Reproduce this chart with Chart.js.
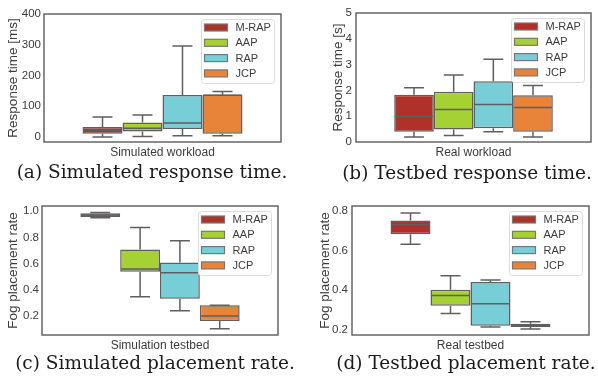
<!DOCTYPE html>
<html>
<head>
<meta charset="utf-8">
<script src="https://cdn.jsdelivr.net/npm/chart.js@4"></script>
<style>
  body { margin: 0; background: #fff; width: 598px; height: 380px; position: relative; overflow: hidden; }
  canvas { position: absolute; }
  .cap { position: absolute; width: 320px; text-align: center; font-family: "DejaVu Serif", serif; font-size: 18.5px; line-height: 22px; color: #1a1a1a; white-space: nowrap; }
</style>
</head>
<body>
<canvas id="c1" width="300" height="162" style="left:0;top:0"></canvas>
<canvas id="c2" width="300" height="162" style="left:298px;top:0"></canvas>
<canvas id="c3" width="300" height="165" style="left:0;top:190px"></canvas>
<canvas id="c4" width="300" height="165" style="left:298px;top:190px"></canvas>
<div class="cap" style="left:-8px;top:161px">(a) Simulated response time.</div>
<div class="cap" style="left:307px;top:162px">(b) Testbed response time.</div>
<div class="cap" style="left:-5px;top:352px">(c) Simulated placement rate.</div>
<div class="cap" style="left:306px;top:352px">(d) Testbed placement rate.</div>
<script>
// box stats per series: [min, q1, median, q3, max]
const series = ['M-RAP', 'AAP', 'RAP', 'JCP'];
const colors = ['#b0302a', '#a6d134', '#78ced6', '#e8833a'];

const simResponse = [[0, 11, 22, 33, 65], [2, 18, 29, 47, 72], [4, 26, 46, 137, 296], [4, 11, 136, 138, 148]];
const realResponse = [[0.19, 0.40, 0.99, 1.83, 2.10], [0.25, 0.48, 1.26, 1.95, 2.60], [0.40, 0.53, 1.45, 2.35, 3.21], [0.19, 0.40, 1.34, 1.81, 2.19]];
const simPlacement = [[0.95, 0.955, 0.972, 0.985, 0.99], [0.345, 0.536, 0.557, 0.707, 0.875], [0.238, 0.33, 0.529, 0.608, 0.773], [0.10, 0.159, 0.197, 0.279, 0.279]];
const realPlacement = [[0.632, 0.682, 0.731, 0.751, 0.79], [0.281, 0.32, 0.372, 0.401, 0.472], [0.212, 0.219, 0.33, 0.44, 0.45], [0.202, 0.212, 0.221, 0.229, 0.239]];

const edge = '#5f5f5f';
const textColor = '#3c3c3c';
const sans = '"Liberation Sans", Arial, sans-serif';

// whiskers, medians, frame and the in-plot legend
const boxPlugin = {
    id: 'boxExtras',
    afterDatasetsDraw(chart) {
        const ctx = chart.ctx;
        const y = chart.scales.y;
        ctx.save();
        ctx.strokeStyle = edge;
        ctx.lineWidth = 1.5;
        chart.data.datasets.forEach((ds, i) => {
            const bar = chart.getDatasetMeta(i).data[0];
            const s = ds.stats;
            const half = bar.width / 2;
            ctx.beginPath();
            ctx.moveTo(bar.x, y.getPixelForValue(s[3]));
            ctx.lineTo(bar.x, y.getPixelForValue(s[4]));
            ctx.moveTo(bar.x - half / 2, y.getPixelForValue(s[4]));
            ctx.lineTo(bar.x + half / 2, y.getPixelForValue(s[4]));
            ctx.moveTo(bar.x, y.getPixelForValue(s[1]));
            ctx.lineTo(bar.x, y.getPixelForValue(s[0]));
            ctx.moveTo(bar.x - half / 2, y.getPixelForValue(s[0]));
            ctx.lineTo(bar.x + half / 2, y.getPixelForValue(s[0]));
            ctx.moveTo(bar.x - half + 1, y.getPixelForValue(s[2]));
            ctx.lineTo(bar.x + half - 1, y.getPixelForValue(s[2]));
            ctx.stroke();
        });
        ctx.restore();
    },
    afterDraw(chart) {
        const ctx = chart.ctx;
        const a = chart.chartArea;
        ctx.save();
        ctx.strokeStyle = '#666';
        ctx.lineWidth = 1.5;
        ctx.strokeRect(a.left, a.top, a.right - a.left, a.bottom - a.top);

        // legend box
        const w = 73, h = 64;
        const lx = a.right - 7 - w, ly = a.top + 5;
        ctx.fillStyle = '#fff';
        ctx.strokeStyle = '#dcdcdc';
        ctx.lineWidth = 1;
        ctx.beginPath();
        ctx.roundRect(lx + 0.5, ly + 0.5, w, h, 3);
        ctx.fill();
        ctx.stroke();
        ctx.font = '11px ' + sans;
        ctx.textBaseline = 'middle';
        series.forEach((name, i) => {
            const cy = ly + 8.5 + i * 15.3;
            ctx.fillStyle = colors[i];
            ctx.fillRect(lx + 3.5, cy - 3.5, 23, 7);
            ctx.strokeStyle = '#777';
            ctx.lineWidth = 1.2;
            ctx.strokeRect(lx + 3.5, cy - 3.5, 23, 7);
            ctx.fillStyle = textColor;
            ctx.fillText(name, lx + 34.5, cy + 0.5);
        });
        ctx.restore();
    }
};

function makeChart(id, category, stats, yTitle, yMin, yMax, step, decimals, pad, yWidth, tickPad) {
    return new Chart(document.getElementById(id), {
        type: 'bar',
        data: {
            labels: [category],
            datasets: series.map((name, i) => ({
                label: name,
                data: [[stats[i][1], stats[i][3]]],
                stats: stats[i],
                backgroundColor: colors[i],
                borderColor: edge,
                borderWidth: 1.5,
                borderSkipped: false,
                categoryPercentage: 0.675,
                barPercentage: 1
            }))
        },
        options: {
            responsive: false,
            animation: false,
            events: [],
            layout: { padding: pad },
            plugins: { legend: { display: false }, tooltip: { enabled: false } },
            scales: {
                x: {
                    grid: { display: false, drawTicks: false },
                    border: { display: false },
                    ticks: { color: textColor, font: { family: sans, size: 12 }, padding: 3 },
                    afterFit: s => { s.height = 20; }
                },
                y: {
                    min: yMin,
                    max: yMax,
                    grid: { display: false, drawTicks: false },
                    border: { display: false },
                    ticks: {
                        stepSize: step,
                        includeBounds: false,
                        color: textColor,
                        font: { family: sans, size: 11.5 },
                        padding: tickPad,
                        callback: v => v.toFixed(decimals)
                    },
                    title: {
                        display: true,
                        text: yTitle,
                        color: textColor,
                        font: { family: sans, size: 13.5 },
                        padding: { top: 5, bottom: 0 }
                    },
                    afterFit: s => { s.width = yWidth; }
                }
            }
        },
        plugins: [boxPlugin]
    });
}

makeChart('c1', 'Simulated workload', simResponse, 'Response time [ms]', -16, 400, 100, 0,
    { left: 0, right: 19, top: 14, bottom: 0 }, 44, 3);
makeChart('c2', 'Real workload', realResponse, 'Response time [s]', 0, 5, 1, 0,
    { left: 27, right: 7, top: 13, bottom: 0 }, 31, 4);
makeChart('c3', 'Simulation testbed', simPlacement, 'Fog placement rate', 0.052, 1.04, 0.2, 1,
    { left: 0, right: 22, top: 16, bottom: 0 }, 42, 3);
makeChart('c4', 'Real testbed', realPlacement, 'Fog placement rate', 0.172, 0.825, 0.2, 1,
    { left: 14, right: 9, top: 16, bottom: 0 }, 40, 4);
</script>
</body>
</html>
